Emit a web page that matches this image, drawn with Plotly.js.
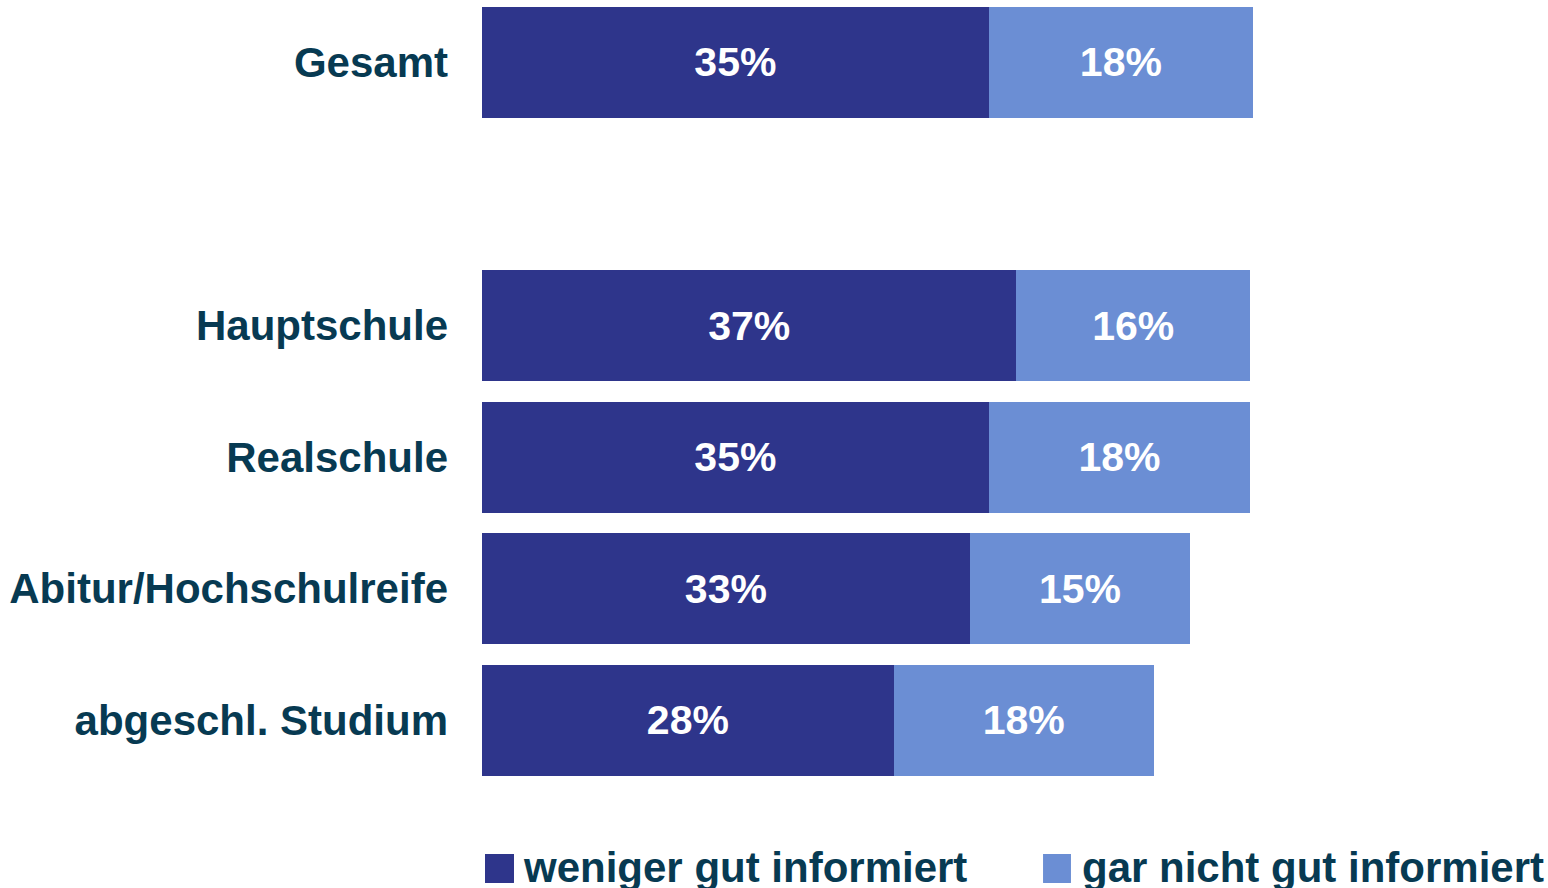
<!DOCTYPE html>
<html>
<head>
<meta charset="utf-8">
<script src="https://cdn.plot.ly/plotly-3.0.1.min.js"></script>
<style>html,body{margin:0;padding:0;background:#fff;}#chart{width:1548px;height:888px;}</style>
</head>
<body>
<div id="chart"></div>
<script>
// Data
const categories = ['Gesamt', 'Hauptschule', 'Realschule', 'Abitur/Hochschulreife', 'abgeschl. Studium'];
const categoryOrder = ['Gesamt', ' ', 'Hauptschule', 'Realschule', 'Abitur/Hochschulreife', 'abgeschl. Studium'];
const seriesNames = ['weniger gut informiert', 'gar nicht gut informiert'];
const wenigerGut = [34.7, 36.6, 34.7, 33.4, 28.2];
const garNichtGut = [18.1, 16.0, 17.9, 15.1, 17.8];

const colors = ['#2E358B', '#6B8ED4'];
const textColor = '#073A52';
const fontFam = '"Liberation Sans", Arial, sans-serif';

const traces = [wenigerGut, garNichtGut].map((vals, i) => ({
  type: 'bar',
  orientation: 'h',
  name: seriesNames[i],
  y: categories,
  x: vals,
  marker: {color: colors[i], line: {width: 0}},
  texttemplate: '<b>%{x:.0f}%</b>',
  textposition: 'inside',
  insidetextanchor: 'middle',
  constraintext: 'none',
  textfont: {family: fontFam, size: 41, color: '#FFFFFF'},
  hoverinfo: 'skip',
  showlegend: false
}));

// custom legend (large keys)
const legendKeys = [
  {x0: 0.0028, x1: 0.0300, tx: 0.0385},
  {x0: 0.5263, x1: 0.5525, tx: 0.5629}
];
const shapes = legendKeys.map((k, i) => ({
  type: 'rect', xref: 'paper', yref: 'paper',
  x0: k.x0, x1: k.x1, y0: -0.0688, y1: -0.1051,
  fillcolor: colors[i], line: {width: 0}
}));
const annotations = legendKeys.map((k, i) => ({
  xref: 'paper', yref: 'paper', x: k.tx, y: -0.0864,
  xanchor: 'left', yanchor: 'middle', xshift: -2, yshift: 1,
  showarrow: false,
  text: '<b>' + seriesNames[i] + '</b>',
  font: {family: fontFam, size: 42, color: textColor}
}));

const layout = {
  width: 1548, height: 888,
  margin: {l: 482, r: 0, t: 0, b: 89},
  paper_bgcolor: '#FFFFFF', plot_bgcolor: '#FFFFFF',
  barmode: 'stack',
  bargap: 0.156,
  showlegend: false,
  font: {family: fontFam, color: textColor},
  xaxis: {
    range: [0, 73.0], showgrid: false, zeroline: false, showline: false,
    showticklabels: false, ticks: '', fixedrange: true
  },
  yaxis: {
    type: 'category',
    categoryorder: 'array', categoryarray: categoryOrder,
    range: [5.6, -0.475],
    showgrid: false, zeroline: false, showline: false, ticks: '',
    ticklabelstandoff: 33,
    tickfont: {family: fontFam, size: 42, color: textColor, weight: 'bold'},
    fixedrange: true
  },
  shapes: shapes,
  annotations: annotations
};

Plotly.newPlot('chart', traces, layout, {displayModeBar: false, staticPlot: true});
</script>
</body>
</html>
